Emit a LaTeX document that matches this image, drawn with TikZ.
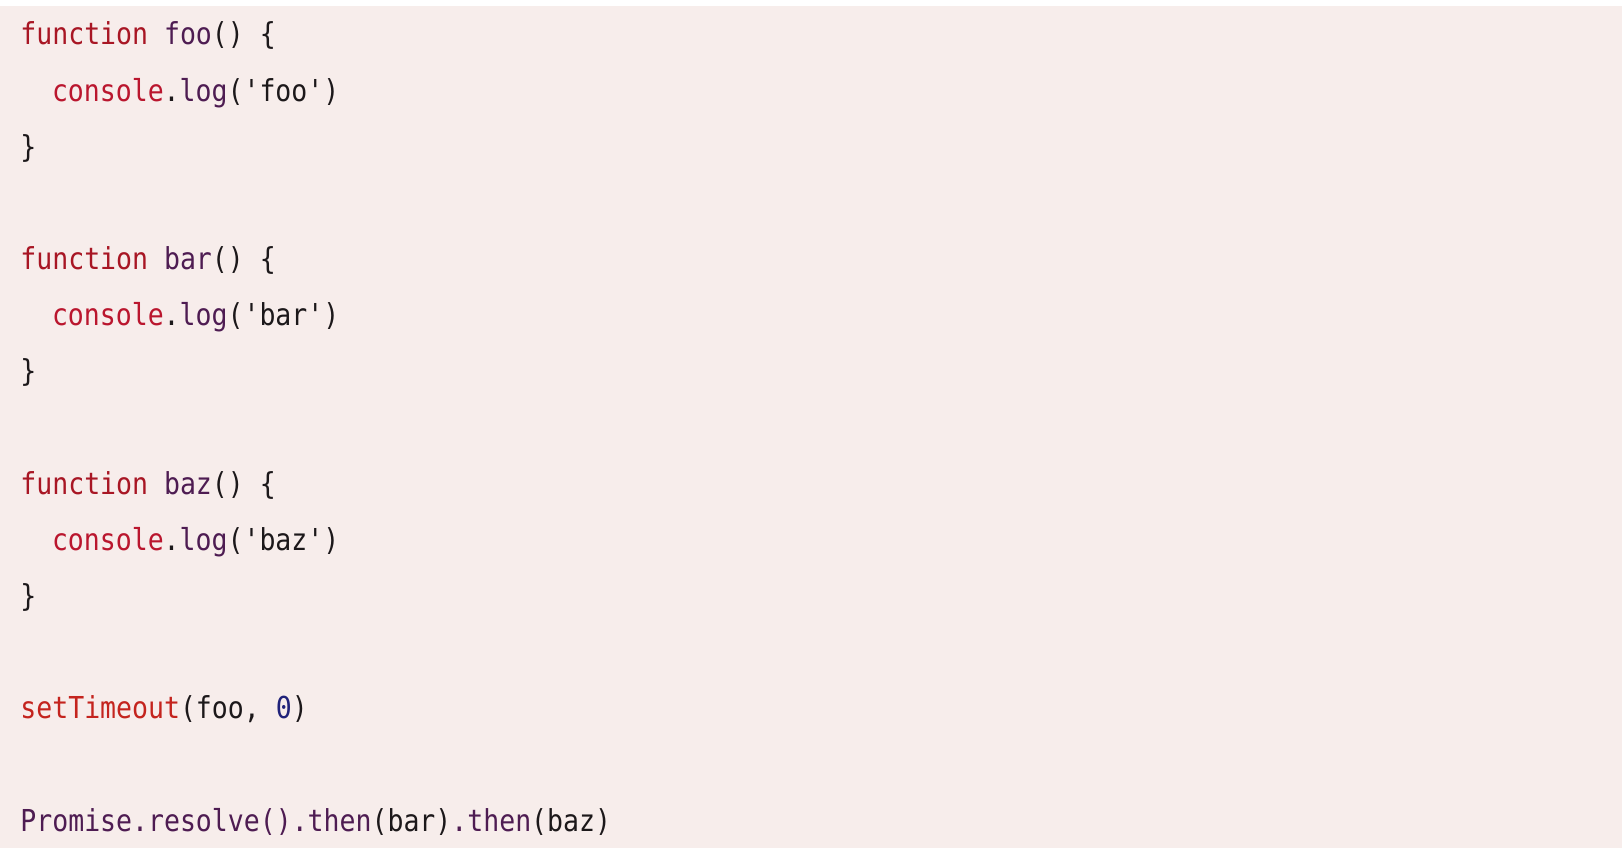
\documentclass[tikz,border=0pt]{standalone}
\usepackage{fontspec}
\setmonofont[FakeStretch=0.878]{DejaVu Sans Mono}
\definecolor{paper}{RGB}{247,237,235}
\definecolor{keyword}{RGB}{168,22,36}
\definecolor{callred}{RGB}{186,22,46}
\definecolor{timered}{RGB}{196,36,30}
\definecolor{funcname}{RGB}{78,28,82}
\definecolor{numblue}{RGB}{32,34,122}
\definecolor{codeblack}{RGB}{28,24,26}
\begin{document}
\begin{tikzpicture}[x=0.5pt,y=-0.5pt,
  code/.style={anchor=base west,inner sep=0pt,text=codeblack,
    font=\ttfamily\fontsize{15.1}{18}\selectfont}]
\useasboundingbox (0,0) rectangle (1622,856);
\fill[white] (0,0) rectangle (1622,856);
\fill[paper] (0,6) rectangle (1622,848);
\newcommand\funktio[1]{
\node[code] (#1otsikko) at (20,45) {\textcolor{keyword}{function} \textcolor{funcname}{#1}() \{};
\node[code] (#1runko) at (51.6,101.14) {\textcolor{callred}{console}.\textcolor{funcname}{log}('#1')};
\node[code] (#1loppu) at (20,157.28) {\}};
}
\begin{scope}
\funktio{foo}
\end{scope}
\begin{scope}[yshift=-112.28pt]
\funktio{bar}
\end{scope}
\begin{scope}[yshift=-224.56pt]
\funktio{baz}
\end{scope}
\node[code] (ajastin) at (20,718.7) {\textcolor{timered}{setTimeout}(foo, \textcolor{numblue}{0})};
\node[code] (lupaus) at (20,831) {\textcolor{funcname}{Promise.resolve().then}(bar)\textcolor{funcname}{.then}(baz)};
\end{tikzpicture}
\end{document}
